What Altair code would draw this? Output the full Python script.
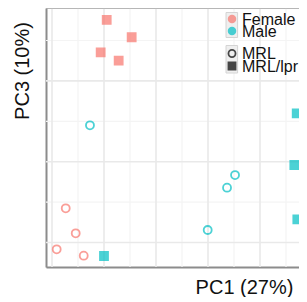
import altair as alt
import pandas as pd

# ---- data ----
pc1 = [0.26, 2.66, -0.32, 1.41, -1.35, -3.68, -2.72, -4.55, -1.95, 0.0, 18.53, 18.30, 18.59, 12.60, 11.83, 9.97]
pc3 = [17.54, 15.40, 13.54, 12.50, 4.50, -5.77, -8.86, -10.84, -11.63, -11.67, 5.99, -0.41, -7.13, -1.65, -3.22, -8.45]
sex = ["Female", "Female", "Female", "Female", "Male", "Female", "Female", "Female", "Female",
       "Male", "Male", "Male", "Male", "Male", "Male", "Male"]
strain = ["MRL/lpr", "MRL/lpr", "MRL/lpr", "MRL/lpr", "MRL", "MRL", "MRL", "MRL", "MRL",
          "MRL/lpr", "MRL/lpr", "MRL/lpr", "MRL/lpr", "MRL", "MRL", "MRL"]

sex_levels = ["Female", "Male"]
sex_colors = ["#F8766D", "#00BFC4"]
strain_levels = ["MRL", "MRL/lpr"]
strain_shapes = ["circle", "square"]
strain_fill_opacity = [0, 1]

x_title = "PC1 (27%)"
y_title = "PC3 (10%)"

grid_x_major = [-5, 0, 5, 10, 15]
grid_x_minor = [-2.5, 2.5, 7.5, 12.5, 17.5]
grid_y_major = [-10, 0, 10]
grid_y_minor = [-5, 5, 15]

x_domain = [-5.577, 18.75]
y_domain = [-13.03, 19.02]

W, H = 253, 259
FONT = "Liberation Sans"

df = pd.DataFrame({"PC1": pc1, "PC3": pc3, "Sex": sex, "Strain": strain})

xs = alt.Scale(domain=x_domain, nice=False, zero=False)
ys = alt.Scale(domain=y_domain, nice=False, zero=False)
sex_scale = alt.Scale(domain=sex_levels, range=sex_colors)
shape_scale = alt.Scale(domain=strain_levels, range=strain_shapes)
fop_scale = alt.Scale(domain=strain_levels, range=strain_fill_opacity)

x_axis = alt.Axis(title=None, labels=False, ticks=False, grid=False,
                  domainColor="#8c8c8c", domainWidth=2)
y_axis = alt.Axis(title=None, labels=False, ticks=False, grid=False,
                  domainColor="#8c8c8c", domainWidth=2)

def vgrid(vals, color, width):
    return alt.Chart(pd.DataFrame({"v": vals})).mark_rule(color=color, strokeWidth=width).encode(
        x=alt.X("v:Q", scale=xs, axis=x_axis, title=None))

def hgrid(vals, color, width):
    return alt.Chart(pd.DataFrame({"v": vals})).mark_rule(color=color, strokeWidth=width).encode(
        y=alt.Y("v:Q", scale=ys, axis=y_axis, title=None))

grid = (vgrid(grid_x_minor, "#f4f4f4", 1.2) + hgrid(grid_y_minor, "#f4f4f4", 1.2)
        + vgrid(grid_x_major, "#e9e9e9", 1.6) + hgrid(grid_y_major, "#e9e9e9", 1.6))

one = pd.DataFrame({"a": [0]})
top_border = alt.Chart(one).mark_rule(color="#a8a8a8", strokeWidth=1.6).encode(
    x=alt.value(0), x2=alt.value(W + 10), y=alt.value(0))

points = alt.Chart(df).mark_point(filled=True, size=64, strokeWidth=1.8).encode(
    x=alt.X("PC1:Q", scale=xs, axis=x_axis, title=None),
    y=alt.Y("PC3:Q", scale=ys, axis=y_axis, title=None),
    fill=alt.Fill("Sex:N", scale=sex_scale, legend=None),
    stroke=alt.Stroke("Sex:N", scale=sex_scale, legend=None),
    shape=alt.Shape("Strain:N", scale=shape_scale, legend=None),
    fillOpacity=alt.FillOpacity("Strain:N", scale=fop_scale, legend=None),
)

# ---- legend (ggplot style, drawn from the same scales) ----
SX, TX = 186, 196          # symbol centre / label start (px, plot coords)
leg_sex = pd.DataFrame({"label": sex_levels})
leg_strain = pd.DataFrame({"label": strain_levels})

key_boxes = (
    alt.Chart(one).mark_rect(fill="#efefef", stroke="#d4d4d4", strokeWidth=1).encode(
        x=alt.value(SX - 6), x2=alt.value(SX + 5.6), y=alt.value(4.5), y2=alt.value(29.5))
    + alt.Chart(one).mark_rect(fill="#efefef", stroke="#d4d4d4", strokeWidth=1).encode(
        x=alt.value(SX - 6), x2=alt.value(SX + 5.6), y=alt.value(37.5), y2=alt.value(65))
)

def legend_rows(frame, y0, step):
    return alt.Chart(frame).transform_window(i="row_number()").transform_calculate(
        sy=f"{y0} + (datum.i - 1) * {step}", ty=f"{y0} + 5.5 + (datum.i - 1) * {step}")

sex_syms = legend_rows(leg_sex, 11, 12).mark_point(filled=True, size=72, shape="circle", strokeWidth=0).encode(
    x=alt.value(SX), y=alt.Y("sy:Q", scale=None, axis=None),
    fill=alt.Fill("label:N", scale=sex_scale, legend=None))
sex_txt = legend_rows(leg_sex, 11, 12).mark_text(font=FONT, fontSize=16, color="#111", align="left",
                                                 baseline="alphabetic").encode(
    x=alt.value(TX), y=alt.Y("ty:Q", scale=None, axis=None), text="label:N")
strain_syms = legend_rows(leg_strain, 45.5, 12.5).mark_point(filled=True, size=50, strokeWidth=1.8,
                                                             color="black").encode(
    x=alt.value(SX), y=alt.Y("sy:Q", scale=None, axis=None),
    shape=alt.Shape("label:N", scale=shape_scale, legend=None),
    fillOpacity=alt.FillOpacity("label:N", scale=fop_scale, legend=None),
    stroke=alt.value("black"))
strain_txt = legend_rows(leg_strain, 45.5, 12.5).mark_text(font=FONT, fontSize=16, color="#111", align="left",
                                                           baseline="alphabetic").encode(
    x=alt.value(TX), y=alt.Y("ty:Q", scale=None, axis=None), text="label:N")

titles = (
    alt.Chart(one).mark_text(text=x_title, font=FONT, fontSize=20, color="#111",
                             align="center", baseline="alphabetic").encode(
        x=alt.value(198.5), y=alt.value(286))
    + alt.Chart(one).mark_text(text=y_title, font=FONT, fontSize=20, color="#111", angle=270,
                               align="center", baseline="alphabetic").encode(
        x=alt.value(-17), y=alt.value(63))
)

chart = alt.layer(grid, top_border, points, key_boxes, sex_syms, sex_txt, strain_syms, strain_txt,
                  titles).properties(
    width=W, height=H,
    autosize=alt.AutoSizeParams(type="none"),
    padding={"left": 38, "top": 0, "right": 0, "bottom": 30},
).configure_view(stroke=None).configure(background="white")

chart.save("out.html", embed_options={"renderer": "svg", "actions": False})
